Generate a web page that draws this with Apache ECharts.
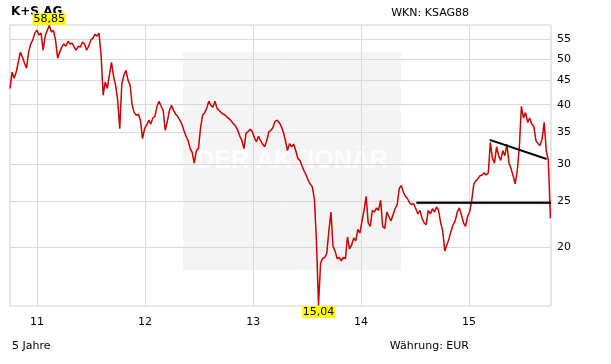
<!DOCTYPE html>
<html><head><meta charset="utf-8">
<script src="https://cdn.jsdelivr.net/npm/echarts@6/dist/echarts.min.js"></script>
<style>html,body{margin:0;padding:0;background:#fff}#c{width:611px;height:364px}</style>
</head><body><div id="c"></div>
<script>
// weekly closing prices (EUR), starting at startDate, one value per week
const startDate = '2010-10-02';
const weeklyClose = [
43.3,46.9,45.5,46.9,49.2,51.7,50.4,49.0,47.8,51.7,
53.8,54.8,56.7,57.5,56.2,56.7,52.2,55.9,57.5,58.85,
57.0,57.5,54.8,50.2,51.7,53.0,53.8,53.2,54.5,53.8,
54.0,53.0,52.2,53.2,53.0,54.3,53.8,52.2,53.2,54.8,
55.3,56.4,55.9,56.7,50.9,41.9,44.7,43.3,46.2,49.2,
46.0,44.0,40.9,35.6,44.2,46.2,47.3,45.1,44.0,39.9,
38.5,38.0,38.2,37.1,33.9,35.6,36.2,37.1,36.4,37.5,
37.8,39.7,40.7,39.7,38.9,35.3,36.9,38.9,39.9,38.9,
38.2,37.8,37.1,36.4,35.3,34.3,33.6,32.3,31.7,30.1,
32.0,32.3,35.6,38.0,38.5,39.3,40.7,39.9,39.5,40.7,
39.3,38.9,38.5,38.2,38.0,37.6,37.3,36.9,36.4,36.0,
35.3,34.3,33.6,32.3,34.8,35.1,35.5,35.1,34.1,33.4,
34.3,33.6,33.0,32.6,33.6,35.0,35.3,35.8,36.9,37.1,
36.7,36.0,35.0,33.6,32.0,33.1,32.6,33.0,32.0,30.8,
30.5,29.7,29.0,28.4,27.7,27.2,26.8,25.3,20.6,15.04,
18.5,18.9,19.0,19.4,21.6,23.7,20.1,19.6,18.9,19.0,
18.7,19.0,18.9,21.0,19.8,20.2,20.9,20.6,21.8,21.4,
22.7,23.9,25.6,22.5,22.1,23.9,23.7,24.2,23.9,25.1,
22.1,21.9,23.7,23.2,22.7,23.4,24.1,24.6,26.6,27.0,
26.1,25.6,25.3,24.8,24.6,24.7,24.1,23.5,23.9,23.0,
22.5,22.3,23.9,23.5,24.1,23.7,24.3,23.9,22.5,21.6,
19.6,20.2,20.8,21.6,22.3,22.7,23.7,24.2,23.4,22.5,
22.1,23.2,23.7,25.1,27.2,27.6,27.9,28.3,28.4,28.7,
28.4,28.7,33.3,30.8,30.1,32.6,31.2,30.5,32.0,31.2,
33.0,30.1,29.3,28.3,27.2,29.0,32.6,39.7,37.5,38.5,
36.7,37.5,36.4,36.0,33.6,33.1,32.8,33.9,36.7,32.0,
30.5,23.0
];
const yearTicks = ['2011-01-01','2012-01-01','2013-01-01','2014-01-01','2015-01-01'];
const priceTicks = [20,25,30,35,40,45,50,55];
const axisRange = {xMin:'2010-10-02', xMax:'2015-10-05', yMin:15, yMax:59};
const supportLine = [['2014-07-07',24.8],['2015-10-05',24.8]];
const trendLine = [['2015-03-12',33.7],['2015-09-20',30.7]];

const DAY = 86400000;
const toTs = s => { const p = s.split('-').map(Number); return Date.UTC(p[0], p[1]-1, p[2]); };
const t0 = toTs(startDate);
const series = weeklyClose.map((v, i) => [t0 + i * 7 * DAY, v]);
const yearTs = yearTicks.map(toTs);
const FONT = 'DejaVu Sans';

const chart = echarts.init(document.getElementById('c'), null, {renderer:'canvas'});
chart.setOption({
  animation:false,
  backgroundColor:'#fff',
  grid:{left:10, right:60, top:25, bottom:58, show:true, borderColor:'#cfcfcf', borderWidth:1, backgroundColor:'transparent'},
  graphic:[
    {type:'rect', z:-10, shape:{x:183, y:52, width:218, height:218}, style:{fill:'#f4f4f4'}},
    {type:'text', z:-9, x:292, y:161, style:{text:'DER AKTIONÄR', fill:'#fdfdfd', font:'bold 25px "Liberation Sans"', align:'center', verticalAlign:'middle'}},
    {type:'text', x:11, y:6, style:{text:'K+S AG', fill:'#000', font:'bold 12px "DejaVu Sans"', verticalAlign:'top'}},
    {type:'text', x:469, y:8, style:{text:'WKN: KSAG88', fill:'#000', font:'11px "DejaVu Sans"', align:'right', verticalAlign:'top'}},
    {type:'text', x:12, y:341, style:{text:'5 Jahre', fill:'#000', font:'11px "DejaVu Sans"', verticalAlign:'top'}},
    {type:'text', x:469, y:341, style:{text:'Währung: EUR', fill:'#000', font:'11px "DejaVu Sans"', align:'right', verticalAlign:'top'}}
  ],
  xAxis:{type:'value', min:toTs(axisRange.xMin), max:toTs(axisRange.xMax),
    axisLine:{show:false}, axisTick:{show:false, customValues:yearTs},
    axisLabel:{customValues:yearTs, formatter:v=>String(new Date(v).getUTCFullYear()).slice(2), color:'#000', fontFamily:FONT, fontSize:11, margin:11},
    splitLine:{show:true, lineStyle:{color:'#d9d9d9', width:1}}},
  yAxis:{type:'log', logBase:10, min:axisRange.yMin, max:axisRange.yMax, position:'right',
    axisLine:{show:false}, axisTick:{show:false, customValues:priceTicks},
    axisLabel:{customValues:priceTicks, color:'#000', fontFamily:FONT, fontSize:11, margin:6},
    splitLine:{show:true, lineStyle:{color:'#d9d9d9', width:1}}},
  series:[
    {type:'line', data:series, symbol:'none', z:3, lineStyle:{color:'#cc0000', width:1.5}, clip:true,
      markPoint:{symbol:'rect', symbolSize:1, itemStyle:{color:'rgba(0,0,0,0)'},
        label:{show:true, formatter:p=>p.value.toFixed(2).replace('.',','), backgroundColor:'#ffff00', color:'#000', fontFamily:FONT, fontSize:11, lineHeight:12, padding:[0,1,0,1], distance:0},
        data:[{type:'max', label:{position:'top'}},{type:'min', label:{position:'bottom'}}]}},
    {type:'line', data:supportLine.map(d=>[toTs(d[0]),d[1]]), symbol:'none', z:4, lineStyle:{color:'#000', width:2, shadowColor:'rgba(0,0,0,0.35)', shadowBlur:2}},
    {type:'line', data:trendLine.map(d=>[toTs(d[0]),d[1]]), symbol:'none', z:4, lineStyle:{color:'#000', width:2}}
  ]
});
</script></body></html>
